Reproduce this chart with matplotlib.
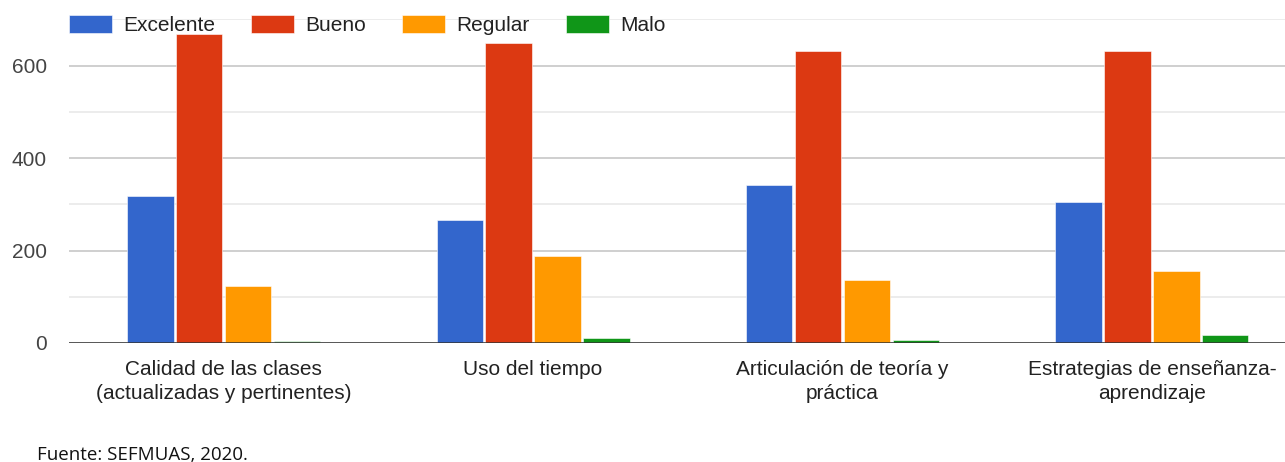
import matplotlib
matplotlib.use('Agg')
import matplotlib.pyplot as plt
import numpy as np

plt.rcParams['font.family'] = ['Liberation Sans', 'DejaVu Sans']

# data
categories = ["Calidad de las clases\n(actualizadas y pertinentes)",
              "Uso del tiempo",
              "Articulación de teoría y\npráctica",
              "Estrategias de enseñanza-\naprendizaje"]
series = ["Excelente", "Bueno", "Regular", "Malo"]
excelente = [318, 266, 342, 305]
bueno = [668, 648, 632, 632]
regular = [124, 188, 136, 156]
malo = [5, 10, 6, 18]
colors = ["#3366cc", "#dc3912", "#ff9900", "#109618"]

W, H = 1285, 462
fig = plt.figure(figsize=(W / 100, H / 100), dpi=100)
ax = fig.add_axes([69 / W, 1 - 343 / H, 1 - 69 / W, (343 - 18.5) / H])

x = np.arange(len(categories))
slot = 0.158
values = [excelente, bueno, regular, malo]
containers = []
for i, (name, vals, c) in enumerate(zip(series, values, colors)):
    bars = ax.bar(x + (i - 1.5) * slot, vals, width=0.150, color=c, label=name,
                  edgecolor='white', linewidth=0.4, zorder=3)
    containers.append(bars)

ax.set_xlim(-0.5, 3.43)
ax.set_ylim(0, 702)

# gridlines: light minor every 100, darker major every 200
ax.set_yticks([0, 200, 400, 600])
ax.set_yticks([100, 300, 500, 700], minor=True)
ax.grid(axis='y', which='major', color='#cccccc', linewidth=1.3, zorder=0)
ax.grid(axis='y', which='minor', color='#ebebeb', linewidth=1.3, zorder=0)
ax.axhline(0, color='#333333', linewidth=1.8, zorder=4)

for s in ax.spines.values():
    s.set_visible(False)
ax.tick_params(axis='y', which='both', length=0, labelsize=15, colors='#444444', pad=16)
ax.tick_params(axis='x', length=0, labelsize=15, colors='#222222', pad=12)
ax.set_xticks(x)
ax.set_xticklabels(categories, linespacing=1.38)

leg = fig.legend(loc='center left', bbox_to_anchor=(69 / W, 1 - 25 / H), ncol=4,
                 frameon=False, fontsize=15, borderpad=0, borderaxespad=0,
                 handlelength=2.07, handleheight=0.96, handletextpad=0.53,
                 columnspacing=1.73)
for t in leg.get_texts():
    t.set_color('#222222')

# first "Malo" bar looks faded in the original (after legend so the handle stays solid)
containers[3][0].set_alpha(0.45)

fig.text(37 / W, 1 - 455 / H, "Fuente: SEFMUAS, 2020.", fontsize=13.5,
         family=['Open Sans', 'DejaVu Sans'], color='#111111', va='center', ha='left')

fig.savefig('out.png', dpi=100)
